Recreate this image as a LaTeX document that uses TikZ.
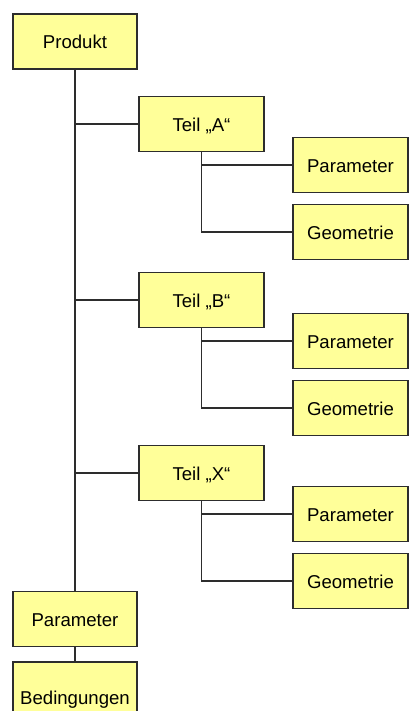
\documentclass[tikz,border=0pt]{standalone}
\usepackage{fontspec}
\setmainfont{Liberation Sans}
\definecolor{boxyellow}{RGB}{255,255,153}
\definecolor{linegray}{RGB}{45,45,45}
\tikzset{
  box/.style={draw=linegray, fill=boxyellow, line width=0.75pt, inner sep=0pt,
    minimum height=27.5pt, text height=0.72em, text depth=0pt},
  mainbox/.style={box, minimum width=62pt},
  partbox/.style={box, minimum width=62.5pt},
  leafbox/.style={box, minimum width=57.5pt},
  link/.style={draw=linegray, line width=0.9pt}
}
\begin{document}
\begin{tikzpicture}[x=0.5pt, y=-0.5pt, font=\fontsize{9.3}{11}\selectfont]
\useasboundingbox (0,0) rectangle (409,711);
% product and global parameters on the left
\node[mainbox] (produkt) at (75,41.5) {Produkt};
\node[mainbox] (param) at (75,619) {Parameter};
\node[mainbox, minimum height=35pt] (bed) at (75,697) {Bedingungen};
\draw[link] (produkt.south) -- (param.north);
\draw[link] (param.south) -- (bed.north);
% one part with its parameters and geometry
\foreach \p/\y in {A/124, B/300, X/473}{
  \node[partbox] (teil\p) at (201.5,\y) {Teil „\p“};
  \node[leafbox] (par\p) at (350.5,{\y+41}) {Parameter};
  \node[leafbox] (geo\p) at (350.5,{\y+108}) {Geometrie};
  \draw[link] (produkt.south |- teil\p.west) -- (teil\p.west);
  \draw[link] (teil\p.south) |- (geo\p.west);
  \draw[link] (teil\p.south |- par\p.west) -- (par\p.west);
}
\end{tikzpicture}
\end{document}
